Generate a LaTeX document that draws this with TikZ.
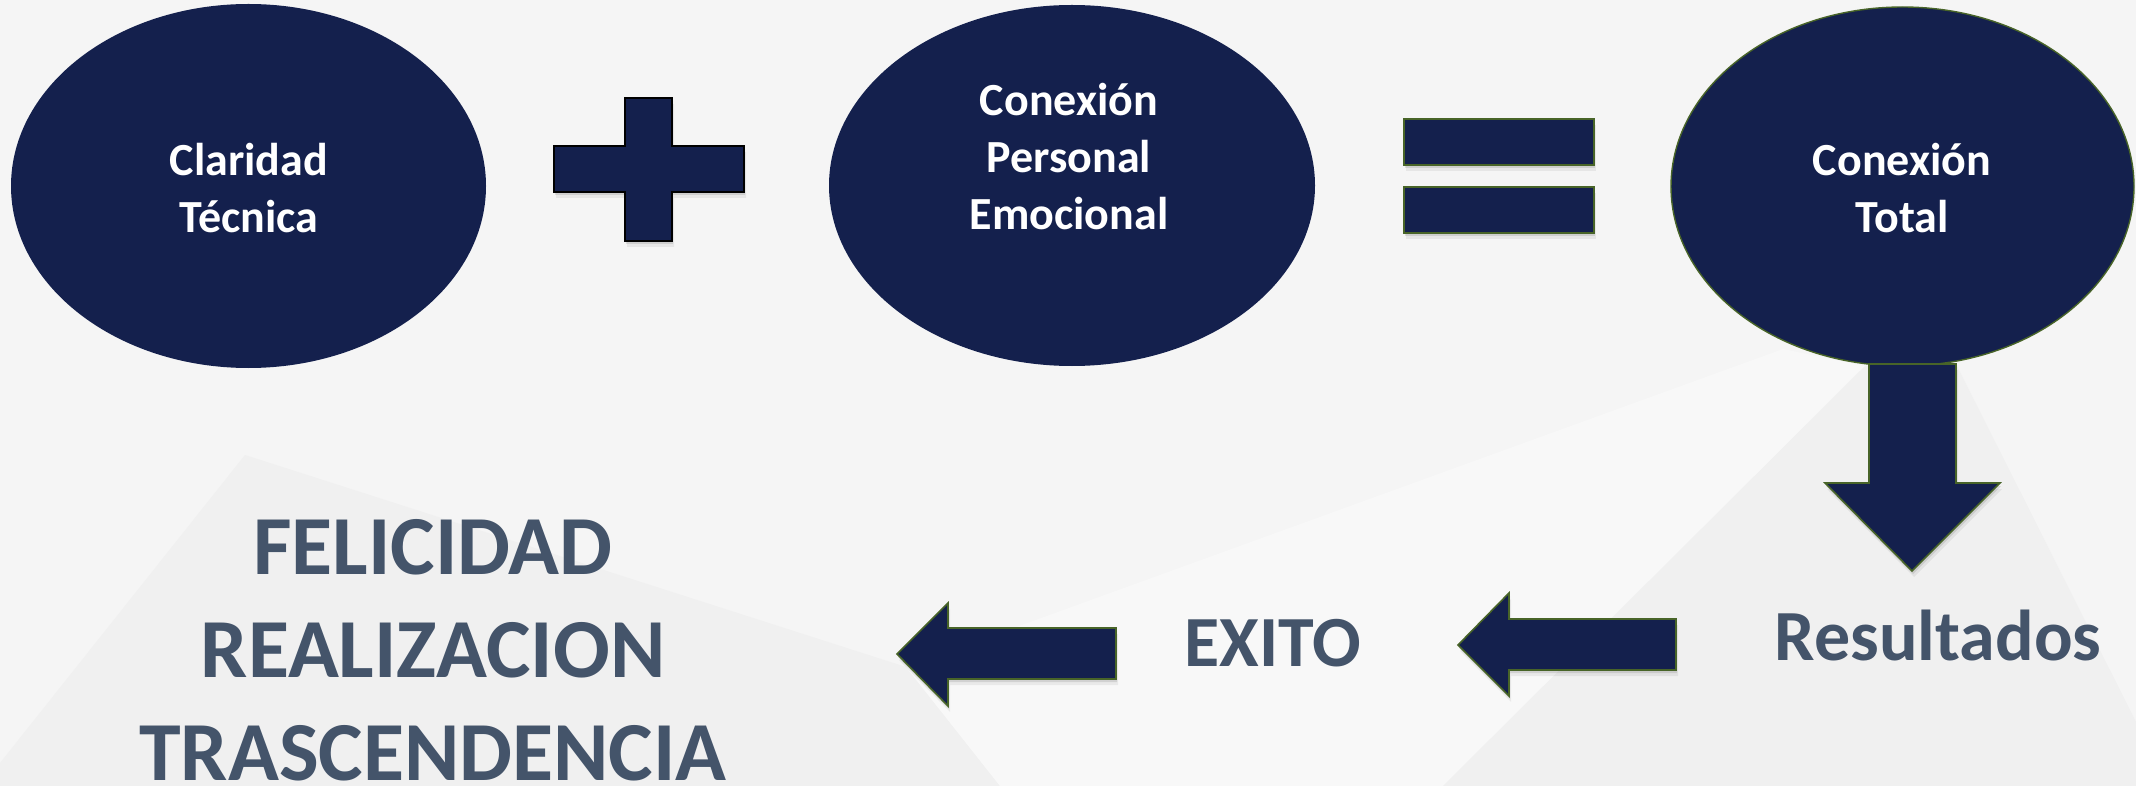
\documentclass[tikz,border=0pt]{standalone}
\usepackage{fontspec}
\setmainfont{Carlito}
\usetikzlibrary{shapes.geometric}
\definecolor{navy}{RGB}{20,32,77}
\definecolor{txtgray}{RGB}{68,84,106}
\definecolor{olivedge}{RGB}{72,100,40}
\definecolor{bgbase}{RGB}{245,245,245}
\definecolor{bgdark}{RGB}{240,240,240}
\definecolor{bglight}{RGB}{248,248,248}
\newcommand{\PlusPath}{(625,98) -- (672,98) -- (672,146) -- (744,146) -- (744,192) -- (672,192) -- (672,241) -- (625,241) -- (625,192) -- (554,192) -- (554,146) -- (625,146) -- cycle}
\newcommand{\EqTop}{(1404,119) rectangle (1594,165)}
\newcommand{\EqBot}{(1404,187) rectangle (1594,233)}
\newcommand{\DownArr}{(1869,364) -- (1956,364) -- (1956,483) -- (2000,483) -- (1912,571) -- (1825,483) -- (1869,483) -- cycle}
\newcommand{\LeftArrA}{(1676,619) -- (1676,670) -- (1509,670) -- (1509,696) -- (1458,645) -- (1509,593) -- (1509,619) -- cycle}
\newcommand{\LeftArrB}{(1116,628) -- (1116,679) -- (948,679) -- (948,706) -- (897,654) -- (948,603) -- (948,628) -- cycle}
\begin{document}
\begin{tikzpicture}[x=1pt,y=-1pt,
  blob/.style={ellipse, fill=navy, inner sep=0pt},
  intext/.style={text=white, font=\bfseries\fontsize{46}{57}\selectfont, align=center, anchor=base, inner sep=0pt},
  outtext/.style={text=txtgray, font=\bfseries\fontsize{72}{86}\selectfont, anchor=base, inner sep=0pt},
  hugetext/.style={text=txtgray, font=\bfseries\fontsize{84}{103}\selectfont, align=center, anchor=base, inner sep=0pt},
  blockshape/.style={fill=navy, draw=olivedge, line width=1.6pt},
  plusshape/.style={fill=navy, draw=black, line width=2.2pt},
  shadeA/.style={fill=black, opacity=0.10},
  shadeB/.style={fill=black, opacity=0.06}]
% background
\useasboundingbox (0,0) rectangle (2136,786);
\fill[bgbase] (0,0) rectangle (2136,786);
\fill[bgdark] (245,455) -- (906,667) -- (1000,786) -- (0,786) -- (0,763) -- cycle;
\fill[bglight] (1783,349) -- (1865,366) -- (1443,786) -- (1000,786) -- (906,667) -- cycle;
\fill[bgdark] (1865,366) -- (1957,366) -- (2136,722) -- (2136,786) -- (1443,786) -- cycle;
% ellipses
\node[blob, minimum width=475, minimum height=364] (e1) at (248.5,186) {};
\node[blob, minimum width=486, minimum height=361] (e2) at (1072,185.5) {};
\node[blob, draw=olivedge, line width=1.4pt, minimum width=463, minimum height=359] (e3) at (1902.5,186.5) {};
\node[intext] (t1) at (249,233) {Claridad\\Técnica};
\node[intext] (t2) at (1069,230) {Conexión\\Personal\\Emocional};
\node[intext] (t3) at (1902,233) {Conexión\\Total};
% plus sign
\fill[shadeB, shift={(2,6)}] \PlusPath;
\fill[shadeA, shift={(1,3)}] \PlusPath;
\draw[plusshape] \PlusPath;
% equals sign
\fill[shadeB, shift={(2,6)}] \EqTop;
\fill[shadeA, shift={(1,3)}] \EqTop;
\fill[shadeB, shift={(2,6)}] \EqBot;
\fill[shadeA, shift={(1,3)}] \EqBot;
\draw[blockshape] \EqTop;
\draw[blockshape] \EqBot;
% block arrows
\fill[shadeB, shift={(2,6)}] \DownArr;
\fill[shadeA, shift={(1,3)}] \DownArr;
\draw[blockshape] \DownArr;
\fill[shadeB, shift={(2,6)}] \LeftArrA;
\fill[shadeA, shift={(1,3)}] \LeftArrA;
\draw[blockshape] \LeftArrA;
\fill[shadeB, shift={(2,6)}] \LeftArrB;
\fill[shadeA, shift={(1,3)}] \LeftArrB;
\draw[blockshape] \LeftArrB;
% outcome texts
\node[outtext] (res) at (1938,660) {Resultados};
\node[outtext] (exito) at (1273,666) {EXITO};
\node[hugetext] (fel) at (433,780) {FELICIDAD\\REALIZACION\\TRASCENDENCIA};
\end{tikzpicture}
\end{document}
